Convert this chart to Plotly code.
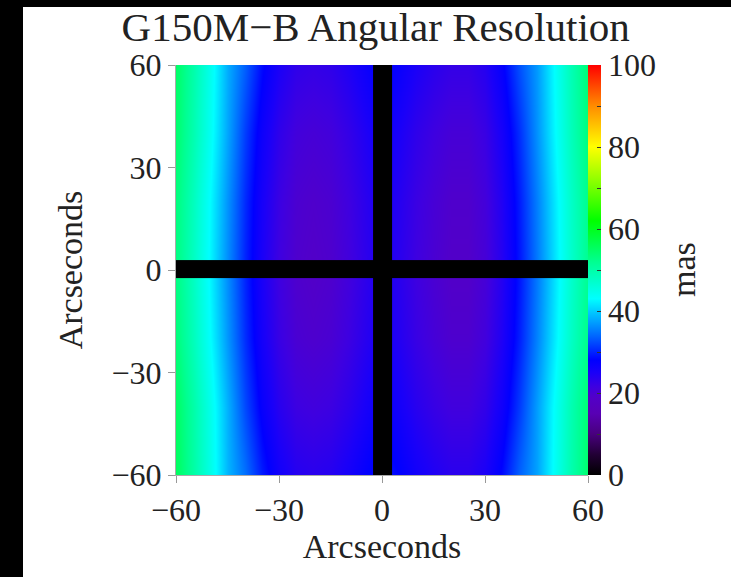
import plotly.graph_objects as go

# Field of view sample positions (arcsec)
X_ARCSEC = [-60, -55, -50, -45, -40, -35, -30, -25, -20, -15, -10, -5, 0,
            5, 10, 15, 20, 25, 30, 35, 40, 45, 50, 55, 60]
Y_ARCSEC = [-60, -40, -20, 0, 20, 40, 60]

# Angular resolution (mas), rows follow Y_ARCSEC, columns follow X_ARCSEC
RES_Y_M60 = [55.5, 50.5, 45.0, 38.5, 34.5, 29.5, 26.0, 24.0, 23.5, 24.0, 25.5, 27.5, 29.5,
             28.0, 26.0, 24.5, 23.5, 23.5, 25.0, 28.5, 33.5, 37.5, 43.5, 49.5, 54.5]
RES_Y_M40 = [55.2, 50.2, 44.7, 38.2, 32.2, 27.2, 23.7, 21.7, 21.2, 21.7, 23.2, 25.2, 27.2,
             25.7, 23.7, 22.2, 21.2, 21.2, 22.7, 26.2, 31.2, 37.2, 43.2, 49.2, 54.2]
RES_Y_M20 = [53.6, 48.6, 43.1, 36.6, 30.6, 25.6, 22.1, 20.1, 19.6, 20.1, 21.6, 23.6, 25.6,
             24.1, 22.1, 20.6, 19.6, 19.6, 21.1, 24.6, 29.6, 35.6, 41.6, 47.6, 52.6]
RES_Y_0 = [53.0, 48.0, 42.5, 36.0, 30.0, 25.0, 21.5, 19.5, 19.0, 19.5, 21.0, 23.0, 25.0,
           23.5, 21.5, 20.0, 19.0, 19.0, 20.5, 24.0, 29.0, 35.0, 41.0, 47.0, 52.0]
RES_Y_P20 = [53.4, 48.4, 42.9, 36.4, 30.4, 25.4, 21.9, 19.9, 19.4, 19.9, 21.4, 23.4, 25.4,
             23.9, 21.9, 20.4, 19.4, 19.4, 20.9, 24.4, 29.4, 35.4, 41.4, 47.4, 52.4]
RES_Y_P40 = [54.5, 49.5, 44.0, 37.5, 31.5, 26.5, 23.0, 21.0, 20.5, 21.0, 22.5, 24.5, 26.5,
             25.0, 23.0, 21.5, 20.5, 20.5, 22.0, 25.5, 30.5, 36.5, 42.5, 48.5, 53.5]
RES_Y_P60 = [55.0, 50.0, 44.5, 38.0, 33.5, 28.5, 25.0, 23.0, 22.5, 23.0, 24.5, 26.5, 28.5,
             27.0, 25.0, 23.5, 22.5, 22.5, 24.0, 27.5, 32.5, 37.0, 43.0, 49.0, 54.0]

RESOLUTION = [RES_Y_M60, RES_Y_M40, RES_Y_M20, RES_Y_0, RES_Y_P20, RES_Y_P40, RES_Y_P60]

# Detector gaps (arcsec edges), drawn as masked strips
GAP_X_EDGES = [-2.6, 2.9]
GAP_Y_EDGES = [-2.4, 2.9]
FULL_EDGES = [-60, 60]

AXIS_TICKS = [-60, -30, 0, 30, 60]
CBAR_TICKVALS = [0, 10, 20, 30, 40, 50, 60, 70, 80, 90, 100]
CBAR_TICKTEXT = ["0", "", "20", "", "40", "", "60", "", "80", "", "100"]

rainbow = [
    [0.00, "#000000"],
    [0.05, "#220035"],
    [0.10, "#48007e"],
    [0.15, "#5800b4"],
    [0.19, "#5200c8"],
    [0.215, "#3e00e0"],
    [0.25, "#1a00f8"],
    [0.28, "#0000ff"],
    [0.34, "#0068ff"],
    [0.43, "#00ffff"],
    [0.52, "#00ff90"],
    [0.62, "#00ff00"],
    [0.72, "#90ff00"],
    [0.80, "#ffff00"],
    [0.90, "#ff8c00"],
    [1.00, "#ff0000"],
]

FONT = "Liberation Serif, Times New Roman, serif"
INK = "#222222"

fig = go.Figure()
fig.add_trace(go.Heatmap(
    x=X_ARCSEC, y=Y_ARCSEC, z=RESOLUTION,
    zmin=0, zmax=100, zsmooth="best", colorscale=rainbow,
    colorbar=dict(
        thickness=13, len=1.0, lenmode="fraction", y=0.5, yanchor="middle",
        x=1.0, xanchor="left", xpad=0, ypad=0, outlinewidth=0,
        tickvals=CBAR_TICKVALS, ticktext=CBAR_TICKTEXT,
        ticks="inside", ticklen=4, tickcolor="#333333",
        tickfont=dict(family=FONT, size=32, color=INK),
    ),
    hoverinfo="skip",
))
black = [[0, "#000000"], [1, "#000000"]]
fig.add_trace(go.Heatmap(x=GAP_X_EDGES, y=FULL_EDGES, z=[[0]], colorscale=black,
                         showscale=False, zsmooth=False, hoverinfo="skip"))
fig.add_trace(go.Heatmap(x=FULL_EDGES, y=GAP_Y_EDGES, z=[[0]], colorscale=black,
                         showscale=False, zsmooth=False, hoverinfo="skip"))

axis_common = dict(
    tickvals=AXIS_TICKS, ticks="outside", ticklen=7, tickcolor="#999999",
    showgrid=False, zeroline=False, showline=True, linecolor="#aaaaaa", linewidth=1,
    tickfont=dict(family=FONT, size=32, color=INK),
)
fig.update_xaxes(range=[-60, 60], title=dict(text="Arcseconds", standoff=2,
                 font=dict(family=FONT, size=34, color=INK)), **axis_common)
fig.update_yaxes(range=[-60, 60], title=dict(text="Arcseconds", standoff=18,
                 font=dict(family=FONT, size=34, color=INK)), **axis_common)

fig.update_layout(
    width=731, height=577,
    margin=dict(l=176, r=143, t=65, b=102),
    paper_bgcolor="black", plot_bgcolor="white",
    title=dict(text="G150M\u2212B Angular Resolution", x=0.514, xanchor="center",
               xref="container", y=1 - 27 / 577, yanchor="middle", yref="container",
               font=dict(family=FONT, size=41, color=INK)),
    annotations=[
        dict(text="mas", xref="paper", yref="paper", x=(683 - 176) / 412, y=0.5,
             xanchor="center", yanchor="middle", textangle=-90, showarrow=False,
             font=dict(family=FONT, size=34, color=INK)),
    ],
    shapes=[
        # white page area (black frame on left and top edges)
        dict(type="rect", xref="paper", yref="paper",
             x0=(23 - 176) / 412, x1=1.5, y0=-0.4, y1=(475 - 7) / 410,
             fillcolor="white", line=dict(width=0), layer="below"),
    ],
)

fig.write_html("out.html", config={"displayModeBar": False})
